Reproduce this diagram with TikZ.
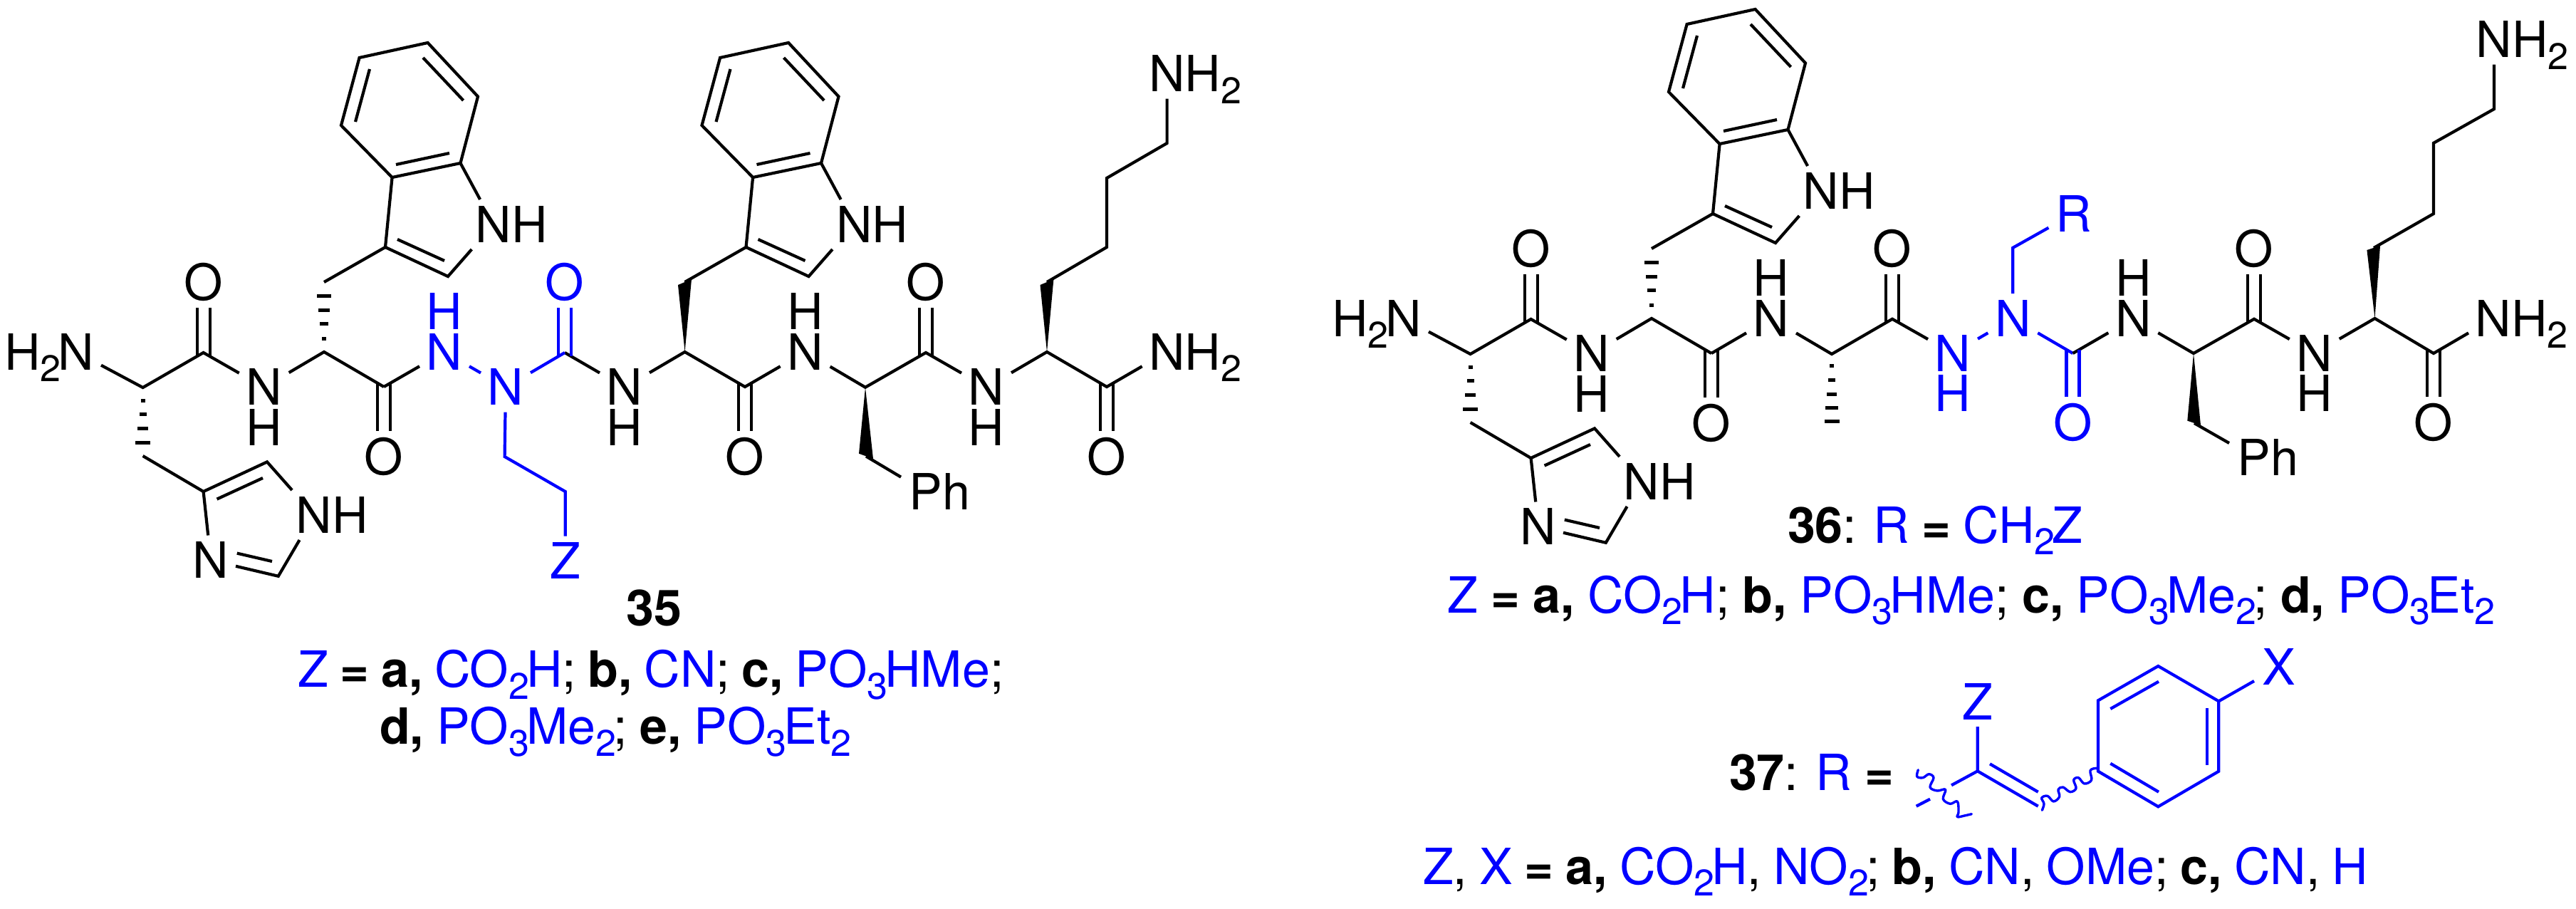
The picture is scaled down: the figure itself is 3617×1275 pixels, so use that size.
\documentclass[tikz,border=0pt]{standalone}
\usepackage{fontspec}
\setmainfont{TeX Gyre Heros}
\usetikzlibrary{calc}
\definecolor{chemblue}{RGB}{0,0,255}
\newcommand{\bl}[1]{\textcolor{chemblue}{#1}}
\newcommand{\wsp}[1]{\spaceskip=#1pt\relax}
\newcommand{\chsub}[1]{\raisebox{-16.7pt}[0pt][0pt]{\fontsize{52}{52}\selectfont #1}\kern-4pt\relax}
\tikzset{
  chemfont/.style={font=\fontsize{70}{80}\selectfont},
  bond/.style={draw=black,line width=4.2pt,line join=miter,line cap=butt},
  bb/.style={bond,draw=chemblue},
  atom/.style={rectangle,inner sep=0pt,outer sep=0pt,minimum width=70pt,minimum height=70pt,
    text height=50pt,text depth=0pt,chemfont},
  batom/.style={atom,text=chemblue},
  hlab/.style={rectangle,inner sep=0pt,outer sep=0pt,text height=50pt,text depth=0pt,chemfont},
  bhlab/.style={hlab,text=chemblue},
  oxy/.style={atom,minimum height=72pt},
  boxy/.style={oxy,text=chemblue},
  capt/.style={anchor=base west,inner sep=0pt,outer sep=0pt,chemfont},
  wavy/.style={draw=chemblue,line width=3.4pt,line cap=round,line join=round},
}
% hashed bond: bars across the line a--b at given fractions/half widths
\newcommand{\hashes}[3]{%
  \foreach \t/\w in {#3}{%
    \draw[line width=5pt,draw=black] ($(#1)!\t!(#2)+(-\w,0)$) -- ($(#1)!\t!(#2)+(\w,0)$);}}
% indole of a tryptophan side chain
\newcommand{\indole}[1]{%
  \coordinate (#1c3) at (541,347);
  \coordinate (#1c2) at (629,388);
  \coordinate (#1c3a) at (550.6,249);
  \coordinate (#1c7a) at (646.5,229);
  \coordinate (#1c7) at (671,135.5);
  \coordinate (#1c6) at (600.6,60);
  \coordinate (#1c5) at (504.6,81);
  \coordinate (#1c4) at (479,176);
  \coordinate (#1i1) at (558,336);
  \coordinate (#1i2) at (624,366);
  \coordinate (#1i3) at (556,231);
  \coordinate (#1i4) at (631,215);
  \coordinate (#1i5) at (499,171);
  \coordinate (#1i6) at (519,97);
  \coordinate (#1i7) at (594,81);
  \coordinate (#1i8) at (650.6,141);
  \node[atom] (#1nh) at (693,315) {N\rlap{H}};
  \draw[bond] (#1c3a) -- (#1c4) -- (#1c5) -- (#1c6) -- (#1c7) -- (#1c7a) -- cycle;
  \draw[bond] (#1nh) -- (#1c2) -- (#1c3) -- (#1c3a);
  \draw[bond] (#1c7a) -- (#1nh);
  \draw[bond] (#1i1) -- (#1i2);
  \draw[bond] (#1i3) -- (#1i4);
  \draw[bond] (#1i5) -- (#1i6);
  \draw[bond] (#1i7) -- (#1i8);
}
% common His-Trp-CO part of 35 and 36
\newcommand{\lefthalf}[1]{%
  \coordinate (#1ca1) at (200.6,544);
  \coordinate (#1cb1) at (200.6,640);
  \coordinate (#1co1) at (285.6,495);
  \coordinate (#1ca2) at (455,494);
  \coordinate (#1cb2) at (455,396);
  \coordinate (#1co2) at (539,543);
  \node[atom] (#1nt) at (107,494) {\llap{H\chsub{2}}N};
  \node[oxy] (#1o1) at (285.6,396) {O};
  \node[atom] (#1n1) at (370.7,543.7) {N};
  \node[hlab] (#1h1) at (370.7,600) {H};
  \node[oxy] (#1o2) at (539,641) {O};
  \draw[bond] (#1nt) -- (#1ca1) -- (#1co1) -- (#1n1) -- (#1ca2) -- (#1co2);
  \draw[bond] ([shift={(-9,5)}]#1co1) -- ([xshift=-9pt]#1o1.south);
  \draw[bond] ([shift={(9,5)}]#1co1) -- ([xshift=9pt]#1o1.south);
  \draw[bond] ([shift={(-9,-5)}]#1co2) -- ([xshift=-9pt]#1o2.north);
  \draw[bond] ([shift={(9,-5)}]#1co2) -- ([xshift=9pt]#1o2.north);
  \hashes{#1ca2}{#1cb2}{.19/3,.4/6,.6/8,.8/10}
  \hashes{#1ca1}{#1cb1}{.19/3,.39/5,.6/7.5,.81/10.5}
  \indole{#1a}
  \draw[bond] (#1cb2) -- (#1ac3);
  % imidazole
  \coordinate (#1m4) at (285.6,690);
  \coordinate (#1m5) at (375,648.4);
  \coordinate (#1m2) at (390.8,808.8);
  \coordinate (#1mi1) at (304.6,700.6);
  \coordinate (#1mi2) at (369,671);
  \coordinate (#1mi3) at (382,788);
  \coordinate (#1mi4) at (332.8,776.6);
  \node[atom] (#1mnh) at (441,723) {N\rlap{H}};
  \node[atom] (#1mn) at (296,786.5) {N};
  \draw[bond] (#1cb1) -- (#1m4) -- (#1m5) -- (#1mnh) -- (#1m2) -- (#1mn) -- (#1m4);
  \draw[bond] (#1mi1) -- (#1mi2);
  \draw[bond] (#1mi3) -- (#1mi4);
}
\begin{document}
\begin{tikzpicture}[x=1pt,y=-1pt]
\useasboundingbox (0,0) rectangle (3617,1275);

%%% ---------- 35 ----------
\lefthalf{p}
\node[batom] (pn2) at (624,494) {N};
\node[bhlab] (ph2) at (624,437.5) {H};
\node[batom] (pn3) at (710,543.7) {N};
\coordinate (pco3) at (793,495);
\node[boxy] (po3) at (793,396) {O};
\node[atom] (pn4) at (877,543.7) {N};
\node[hlab] (ph4) at (877,600) {H};
\coordinate (pca3) at (961.6,494);
\coordinate (pw3a) at (952,400);
\coordinate (pw3b) at (971,392);
\coordinate (pw3m) at (961.5,396);
\coordinate (pco4) at (1046,543);
\node[oxy] (po4) at (1046,641) {O};
\node[atom] (pn5) at (1130.6,494) {N};
\node[hlab] (ph5) at (1130.6,437.5) {H};
\coordinate (pca4) at (1215,543.7);
\coordinate (pw4a) at (1206,636.7);
\coordinate (pw4b) at (1226,644);
\coordinate (pw4m) at (1216,640.5);
\node[atom] (pph) at (1300,690.5) {P\rlap{h}};
\coordinate (pco5) at (1300,495);
\node[oxy] (po5) at (1300,396) {O};
\node[atom] (pn6) at (1385,543.7) {N};
\node[hlab] (ph6) at (1385,600) {H};
\coordinate (pca5) at (1470,494);
\coordinate (pw5a) at (1460.5,400);
\coordinate (pw5b) at (1479.4,392);
\coordinate (pw5m) at (1470,396);
\coordinate (pco6) at (1554,543);
\node[oxy] (po6) at (1554,641) {O};
\node[atom] (pnt) at (1638.6,494) {N\rlap{H\chsub{2}}};
\coordinate (pl1) at (1554,347);
\coordinate (pl2) at (1554,250);
\coordinate (pl3) at (1638.6,201);
\node[atom] (pnz) at (1638.6,103.5) {N\rlap{H\chsub{2}}};
\coordinate (pb1) at (708.6,641);
\coordinate (pb2) at (793.7,690);
\node[batom] (pz) at (793.7,787.5) {Z};

\draw[bond] (pco2) -- (pn2);
\draw[bb] (pn2) -- (pn3);
\draw[bond] (pco3) -- (pn4) -- (pca3) -- (pco4) -- (pn5) -- (pca4) -- (pco5) -- (pn6) -- (pca5) -- (pco6) -- (pnt);
\draw[bb] (pn3) -- (pco3);
\draw[bb] ([shift={(-9,5)}]pco3) -- ([xshift=-9pt]po3.south);
\draw[bb] ([shift={(9,5)}]pco3) -- ([xshift=9pt]po3.south);
\draw[bond] ([shift={(-9,-5)}]pco4) -- ([xshift=-9pt]po4.north);
\draw[bond] ([shift={(9,-5)}]pco4) -- ([xshift=9pt]po4.north);
\draw[bond] ([shift={(-9,5)}]pco5) -- ([xshift=-9pt]po5.south);
\draw[bond] ([shift={(9,5)}]pco5) -- ([xshift=9pt]po5.south);
\draw[bond] ([shift={(-9,-5)}]pco6) -- ([xshift=-9pt]po6.north);
\draw[bond] ([shift={(9,-5)}]pco6) -- ([xshift=9pt]po6.north);
\fill (pca3) -- (pw3a) -- (pw3b) -- cycle;
\fill (pca4) -- (pw4a) -- (pw4b) -- cycle;
\fill (pca5) -- (pw5a) -- (pw5b) -- cycle;
\begin{scope}[shift={(506.5,0)}]
  \indole{pb}
\end{scope}
\draw[bond] (pw3m) -- (pbc3);
\draw[bond] (pw4m) -- (pph);
\draw[bond] (pw5m) -- (pl1) -- (pl2) -- (pl3) -- (pnz);
\draw[bb] (pn3) -- (pb1) -- (pb2) -- (pz);

\node[capt,font=\fontsize{70}{80}\selectfont\bfseries,anchor=base] (lab35) at (918,878) {35};
\node[capt] (capa) at (418.5,964.6) {\wsp{16.5}\bl{Z} \textbf{= a,} \bl{CO\chsub{2}H}; \textbf{b,} \bl{CN}; \textbf{c,} \bl{PO\chsub{3}HMe};};
\node[capt] (capb) at (533,1044.8) {\wsp{17.8}\textbf{d,} \bl{PO\chsub{3}Me\chsub{2}}; \textbf{e,} \bl{PO\chsub{3}Et\chsub{2}}};

%%% ---------- 36 ----------
\begin{scope}[shift={(1864,-47)}]
  \lefthalf{q}
\end{scope}
\node[atom] (qn2) at (2487,447) {N};
\node[hlab] (qh2) at (2487,390) {H};
\coordinate (qca3) at (2572,497);
\coordinate (qme) at (2572,597);
\coordinate (qco3) at (2657,447.8);
\node[oxy] (qo3) at (2657,349) {O};
\node[batom] (qn3) at (2742,496) {N};
\node[bhlab] (qh3) at (2742,552.5) {H};
\node[batom] (qn4) at (2826.3,447) {N};
\coordinate (qco4) at (2910.5,496);
\node[boxy] (qo4) at (2910.5,593) {O};
\coordinate (qb1) at (2826.3,347.8);
\node[batom] (qr) at (2911.4,300) {R};
\node[atom] (qn5) at (2995.3,447) {N};
\node[hlab] (qh5) at (2995.3,390) {H};
\coordinate (qca4) at (3080,496);
\coordinate (qw4a) at (3071.3,590.6);
\coordinate (qw4b) at (3090,597);
\coordinate (qw4m) at (3081,594);
\node[atom] (qph) at (3165,642) {P\rlap{h}};
\coordinate (qco5) at (3165,447.8);
\node[oxy] (qo5) at (3165,349) {O};
\node[atom] (qn6) at (3249.7,496) {N};
\node[hlab] (qh6) at (3249.7,552.5) {H};
\coordinate (qca5) at (3334.5,447);
\coordinate (qw5a) at (3323.4,351);
\coordinate (qw5b) at (3342,345);
\coordinate (qw5m) at (3333,348);
\coordinate (qco6) at (3417,496);
\node[oxy] (qo6) at (3417,593) {O};
\node[atom] (qnt) at (3501,447) {N\rlap{H\chsub{2}}};
\coordinate (ql1) at (3417,300);
\coordinate (ql2) at (3417,200.8);
\coordinate (ql3) at (3502,153);
\node[atom] (qnz) at (3502,55.7) {N\rlap{H\chsub{2}}};

\draw[bond] (qco2) -- (qn2) -- (qca3) -- (qco3) -- (qn3);
\draw[bb] (qn3) -- (qn4) -- (qco4);
\draw[bond] (qco4) -- (qn5) -- (qca4) -- (qco5) -- (qn6) -- (qca5) -- (qco6) -- (qnt);
\draw[bond] ([shift={(-9,5)}]qco3) -- ([xshift=-9pt]qo3.south);
\draw[bond] ([shift={(9,5)}]qco3) -- ([xshift=9pt]qo3.south);
\draw[bb] ([shift={(-9,-5)}]qco4) -- ([xshift=-9pt]qo4.north);
\draw[bb] ([shift={(9,-5)}]qco4) -- ([xshift=9pt]qo4.north);
\draw[bond] ([shift={(-9,5)}]qco5) -- ([xshift=-9pt]qo5.south);
\draw[bond] ([shift={(9,5)}]qco5) -- ([xshift=9pt]qo5.south);
\draw[bond] ([shift={(-9,-5)}]qco6) -- ([xshift=-9pt]qo6.north);
\draw[bond] ([shift={(9,-5)}]qco6) -- ([xshift=9pt]qo6.north);
\draw[bb] (qn4) -- (qb1) -- (qr);
\hashes{qca3}{qme}{.165/3,.36/5,.56/7,.756/9,.94/10.5}
\fill (qca4) -- (qw4a) -- (qw4b) -- cycle;
\fill (qca5) -- (qw5a) -- (qw5b) -- cycle;
\draw[bond] (qw4m) -- (qph);
\draw[bond] (qw5m) -- (ql1) -- (ql2) -- (ql3) -- (qnz);

\node[capt] (lab36) at (2510,762) {\wsp{17}\textbf{36}: \bl{R} \textbf{=} \bl{CH\chsub{2}Z}};
\node[capt] (capc) at (2032,860.2) {\wsp{18.4}\bl{Z} \textbf{= a,} \bl{CO\chsub{2}H}; \textbf{b,} \bl{PO\chsub{3}HMe}; \textbf{c,} \bl{PO\chsub{3}Me\chsub{2}}; \textbf{d,} \bl{PO\chsub{3}Et\chsub{2}}};

%%% ---------- 37 ----------
\node[capt] (lab37) at (2428,1109.6) {\wsp{18}\textbf{37}: \bl{R} \textbf{=}};
\coordinate (ra) at (2776.7,1082.4);
\coordinate (rb) at (2861.7,1131.7);
\coordinate (ri1) at (2794,1072.3);
\coordinate (ri2) at (2861.7,1111.7);
\coordinate (s1) at (2690.7,1131.7);
\coordinate (s2) at (2710,1121.7);
\coordinate (s3) at (2740,1102.3);
\node[batom] (rz) at (2776.7,985) {Z};
\coordinate (r1) at (2946,1082.7);
\coordinate (r2) at (2946,983.3);
\coordinate (r3) at (3030.3,935);
\coordinate (r4) at (3115.3,984.3);
\coordinate (r5) at (3115.3,1082.7);
\coordinate (r6) at (3030.3,1132.3);
\coordinate (r7) at (2963.3,995);
\coordinate (r8) at (3031,956.7);
\coordinate (r9) at (3098.7,994);
\coordinate (r10) at (3098.7,1074);
\coordinate (r11) at (2963.3,1071.7);
\coordinate (r12) at (3031,1111.7);
\node[batom] (rx) at (3200,936) {X};
\draw[bb] (rz) -- (ra) -- (rb);
\draw[bb] (s3) -- (ra);
\draw[bb] (s1) -- (s2);
\draw[bb] (ri1) -- (ri2);
\draw[bb] (r1) -- (r2) -- (r3) -- (r4) -- (r5) -- (r6) -- cycle;
\draw[bb] (r7) -- (r8);
\draw[bb] (r9) -- (r10);
\draw[bb] (r11) -- (r12);
\draw[bb] (r4) -- (rx);
\begin{scope}[shift={(2670,1040)},x=.33333pt,y=-.33333pt]
  \draw[wavy] plot[smooth,tension=.6] coordinates {(70,122) (65,150) (90,155) (115,140) (135,155) (120,195) (150,210) (185,205) (175,245) (205,265) (235,255) (240,300) (235,320) (265,315) (295,308)};
  \draw[wavy] plot[smooth,tension=.6] coordinates {(592,292) (600,265) (590,240) (615,232) (640,255) (665,235) (660,205) (680,195) (710,215) (735,200) (725,165) (745,155) (770,180) (800,165) (795,125) (820,115) (828,122)};
\end{scope}
\node[capt] (capd) at (1998,1241) {\wsp{17}\bl{Z}, \bl{X} \textbf{= a,} \bl{CO\chsub{2}H}, \bl{NO\chsub{2}}; \textbf{b,} \bl{CN}, \bl{OMe}; \textbf{c,} \bl{CN}, \bl{H}};
\end{tikzpicture}
\end{document}
